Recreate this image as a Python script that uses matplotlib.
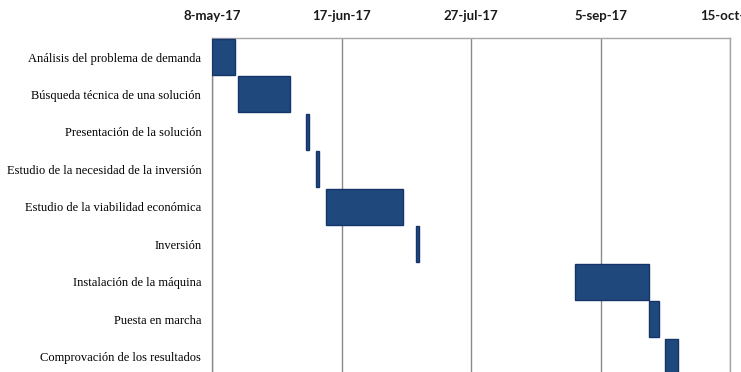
import matplotlib
matplotlib.use("Agg")
import matplotlib.pyplot as plt
import matplotlib.dates as mdates
from datetime import date

tasks = [
    "Análisis del problema de demanda",
    "Búsqueda técnica de una solución",
    "Presentación de la solución",
    "Estudio de la necesidad de la inversión",
    "Estudio de la viabilidad económica",
    "Inversión",
    "Instalación de la máquina",
    "Puesta en marcha",
    "Comprovación de los resultados",
]
start_dates = [
    date(2017, 5, 8),
    date(2017, 5, 16),
    date(2017, 6, 6),
    date(2017, 6, 9),
    date(2017, 6, 12),
    date(2017, 7, 10),
    date(2017, 8, 28),
    date(2017, 9, 20),
    date(2017, 9, 25),
]
durations = [7, 16, 1, 1, 24, 1, 23, 3, 4]

tick_dates = [date(2017, 5, 8), date(2017, 6, 17), date(2017, 7, 27),
              date(2017, 9, 5), date(2017, 10, 15)]
tick_labels = ["8-may-17", "17-jun-17", "27-jul-17", "5-sep-17", "15-oct-17"]

W, H = 741, 372
fig = plt.figure(figsize=(W / 100, H / 100), dpi=100)
left_px, right_px, top_px = 212.3, 730.0, 38.3
pitch = 37.45
bottom_px = top_px + pitch * len(tasks)
ax = fig.add_axes([left_px / W, (H - bottom_px) / H,
                   (right_px - left_px) / W, (bottom_px - top_px) / H])

starts = mdates.date2num(start_dates)
ypos = list(range(len(tasks)))
ax.barh(ypos, durations, left=starts, height=0.96, color="#1F497D",
        edgecolor="#14346A", linewidth=1.0, zorder=3)

ticks = mdates.date2num(tick_dates)
ax.set_xlim(ticks[0], ticks[-1])
ax.set_ylim(len(tasks) - 0.5, -0.5)
ax.set_xticks(ticks)
ax.set_xticklabels(tick_labels, fontfamily="Lato", fontweight="bold",
                   fontsize=9.5, color="#1a1a1a")
ax.xaxis.tick_top()
ax.tick_params(axis="x", length=0, pad=12)
ax.set_yticks(ypos)
ax.set_yticklabels(tasks, fontfamily="Liberation Serif", fontsize=9,
                   color="#000000")
ax.tick_params(axis="y", length=0, pad=8)

ax.grid(axis="x", color="#8a8a8a", linewidth=1.0, zorder=1)
ax.grid(axis="y", visible=False)
for side in ["top", "right", "left", "bottom"]:
    ax.spines[side].set_color("#a6a6a6")
    ax.spines[side].set_linewidth(1.0)
ax.spines["left"].set_color("#8a8a8a")

fig.savefig("out.png", dpi=100)
